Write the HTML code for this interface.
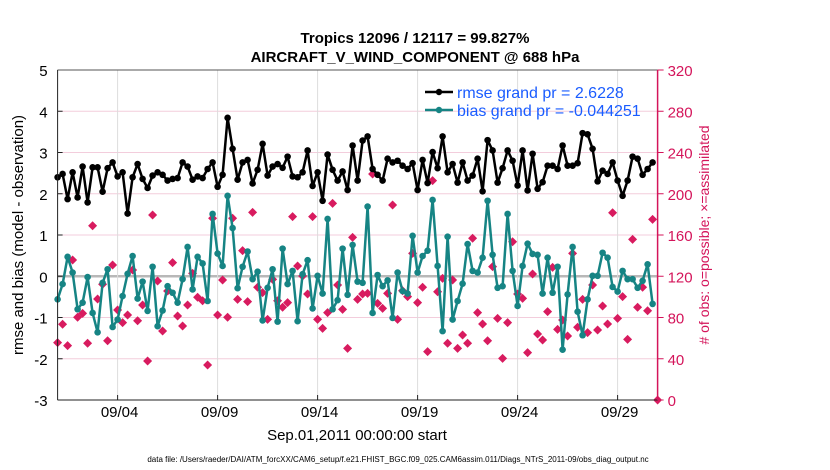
<!DOCTYPE html>
<html><head><meta charset="utf-8"><style>
body{margin:0;background:#fff}
svg{display:block;font-family:"Liberation Sans",sans-serif}
</style></head><body>
<svg id="chart" width="830" height="470" viewBox="0 0 830 470">
<g id="grid"></g>
<g id="series"></g>
<g id="axes"></g>
<text x="415" y="43" text-anchor="middle" font-size="15" font-weight="bold">Tropics 12096 / 12117 = 99.827%</text>
<text x="415" y="62" text-anchor="middle" font-size="15" font-weight="bold">AIRCRAFT_V_WIND_COMPONENT @ 688 hPa</text>
<text transform="translate(23,235) rotate(-90)" text-anchor="middle" font-size="15">rmse and bias (model - observation)</text>
<text transform="translate(709,235) rotate(-90)" text-anchor="middle" font-size="14" fill="#d4145a"># of obs: o=possible; ×=assimilated</text>
<text x="357" y="440" text-anchor="middle" font-size="15">Sep.01,2011 00:00:00 start</text>
<text x="398" y="462" text-anchor="middle" font-size="8">data file: /Users/raeder/DAI/ATM_forcXX/CAM6_setup/f.e21.FHIST_BGC.f09_025.CAM6assim.011/Diags_NTrS_2011-09/obs_diag_output.nc</text>
<g>
<line x1="425" y1="92" x2="453" y2="92" stroke="#000" stroke-width="2.5"/>
<circle cx="439" cy="92" r="3.2" fill="#000"/>
<text x="457" y="98" font-size="16" fill="#1a5cff">rmse grand pr = 2.6228</text>
<line x1="425" y1="110" x2="453" y2="110" stroke="#168484" stroke-width="2.5"/>
<circle cx="439" cy="110" r="3.2" fill="#168484"/>
<text x="457" y="116" font-size="16" fill="#1a5cff">bias grand pr = -0.044251</text>
</g>
</svg>
<script>
const rmse=[2.40,2.48,1.87,2.52,1.91,2.66,1.79,2.64,2.64,2.05,2.62,2.76,2.42,2.52,1.52,2.40,2.72,2.36,2.14,2.44,2.52,2.46,2.32,2.36,2.38,2.76,2.66,2.34,2.42,2.38,2.60,2.76,
2.17,2.46,3.84,3.09,2.34,2.76,2.82,2.25,2.58,3.21,2.44,2.66,2.72,2.63,2.90,2.42,2.40,2.52,3.05,2.19,2.52,1.83,2.95,2.58,2.32,2.54,2.09,3.17,2.32,3.29,
3.39,2.60,2.46,2.32,2.85,2.76,2.80,2.68,2.60,2.74,2.09,2.82,2.26,3.01,2.62,3.39,2.52,2.72,2.27,2.76,2.32,2.44,2.85,2.06,3.30,3.05,2.27,2.62,3.05,2.80,
2.20,3.05,2.08,2.97,2.12,2.28,2.68,2.68,2.60,3.17,2.68,2.68,2.74,3.47,3.44,3.09,2.30,2.56,2.48,2.76,2.32,1.95,2.32,2.90,2.85,2.46,2.60,2.76];
const bias=[-0.56,-0.19,0.47,0.09,-0.80,-0.64,-0.02,-0.89,-1.36,-0.16,0.17,-1.23,-1.05,-0.48,0.06,0.49,-0.54,-0.13,-0.84,0.23,-1.21,-0.83,-0.24,-0.40,-0.64,-0.07,0.71,-0.32,0.47,0.31,-0.60,1.51,
0.55,0.25,1.95,1.17,-0.29,0.23,0.60,-0.07,0.11,-1.07,-0.28,0.17,-1.10,0.67,-0.19,0.13,-1.09,0.05,0.39,-0.78,0.01,-0.42,1.39,-0.80,-0.58,0.67,-0.45,0.76,-0.13,-0.16,
1.69,-0.89,0.03,-0.24,-0.10,-1.01,0.09,-0.36,-0.42,0.98,0.09,0.49,0.62,1.85,0.25,-1.33,0.96,-1.05,-0.60,-0.18,0.78,0.13,0.09,0.45,1.83,0.52,-0.28,-0.24,1.51,0.13,
-0.72,0.25,0.79,0.54,0.52,-0.42,0.45,-0.40,0.23,-1.78,-0.44,0.71,-0.86,-1.43,-0.56,0.01,0.01,0.57,0.45,-0.26,-0.37,0.13,-0.07,-0.07,-0.28,-0.11,0.29,-0.67];
const nobs=[55.6,73.4,52.7,135.8,80.2,84.0,55.0,169,97.9,112.2,57.5,130.9,87.3,75.0,82.4,126.1,76.9,92.1,37.8,179.4,115.4,66.9,105.7,133.2,81.5,71.8,92.1,122.8,99.6,96.3,33.9,176.2,
82.4,116.4,80.2,176.2,97.6,144.8,95.4,182,109.3,104.1,78.2,117.0,96.3,89.9,94.4,177.8,129.9,120.2,102.8,177.8,78.2,69.5,84.7,190.7,111.5,87.9,50.1,157.7,97.6,102.8,
103.4,219.2,93.7,88.9,103.4,189.1,78.2,106.0,100.2,142.2,94.4,109.3,46.9,212.7,105.0,118.0,55.0,116.4,50.1,63.0,55.0,156.8,84.7,73.7,57.5,129.3,79.2,40.4,75.0,153.5,
102.8,98.6,45.9,122.2,64.0,58.2,85.7,128.6,68.5,77.6,62.1,142.2,70.5,97.6,65.3,111.5,67.9,91.2,73.7,181.6,79.2,100.2,58.8,155.8,89.9,109.3,86.6,175.2,0];
const leftTicks=[-3,-2,-1,0,1,2,3,4,5];
const rightTicks=[0,40,80,120,160,200,240,280,320];
const dayTicks=[3,8,13,18,23,28];
const dayLabels=["09/04","09/09","09/14","09/19","09/24","09/29"];
const stepDays=0.25;

const X0=57.6,X1=657.6,Y0=400,Y1=70;
const xs=d=>X0+(X1-X0)*d/30;
function yL(v){return Y0+(Y1-Y0)*(v+3)/8;}
function yR(v){return Y0+(Y1-Y0)*v/320;}
const NS="http://www.w3.org/2000/svg";
function mk(tag,attrs,parent){const e=document.createElementNS(NS,tag);for(const k in attrs)e.setAttribute(k,attrs[k]);parent.appendChild(e);return e;}
const grid=document.getElementById('grid'),ser=document.getElementById('series'),ax=document.getElementById('axes');

leftTicks.forEach(v=>{
  const y=yL(v);
  const l=mk('line',{x1:X0,x2:X1,y1:y,y2:y,stroke:v===0?'#b8b8b8':'#f3cddc','stroke-width':v===0?2.5:1},grid);
  
  
  const t=mk('text',{x:X0-10,y:y+6,'text-anchor':'end','font-size':15},ax);t.textContent=String(v);
  
  
  const tk=mk('line',{x1:X0,x2:X0+5,y1:y,y2:y,stroke:'#222'},ax);
  
  
});
dayTicks.forEach((d,i)=>{
  const x=xs(d);
  const l=mk('line',{x1:x,x2:x,y1:Y1,y2:Y0,stroke:'#dcdcdc','stroke-width':1},grid);
  
  
  const tk=mk('line',{x1:x,x2:x,y1:Y0,y2:Y0-5,stroke:'#222'},ax);
  
  
  const t=mk('text',{x:x+2,y:417,'text-anchor':'middle','font-size':15},ax);t.textContent=dayLabels[i];
  
  
});
rightTicks.forEach(v=>{
  const y=yR(v);
  const tk=mk('line',{x1:X1,x2:X1+6,y1:y,y2:y,stroke:'#d4145a'},ax);
  
  
  const t=mk('text',{x:X1+10,y:y+6,'font-size':15,fill:'#d4145a'},ax);t.textContent=String(v);
  
  
});
let e;
e=mk('line',{x1:X0,x2:X1,y1:Y1,y2:Y1,stroke:'#555'},ax);


e=mk('line',{x1:X0,x2:X1,y1:Y0,y2:Y0,stroke:'#222'},ax);


e=mk('line',{x1:X0,x2:X0,y1:Y1,y2:Y0,stroke:'#222'},ax);


e=mk('line',{x1:X1,x2:X1,y1:Y1,y2:Y0,stroke:'#d4145a','stroke-width':1.5},ax);



nobs.forEach((v,i)=>{
  const x=xs(i*stepDays),y=yR(v);
  const g=mk('path',{d:`M${x} ${y-4.5}L${x+4.5} ${y}L${x} ${y+4.5}L${x-4.5} ${y}Z`,fill:'#d81b5f'},ser);
  
  
});
function series(vals,color,name){
  const pts=vals.map((v,i)=>xs(i*stepDays)+','+yL(v)).join(' ');
  const pl=mk('polyline',{points:pts,fill:'none',stroke:color,'stroke-width':2.5,'stroke-linejoin':'round'},ser);
  
  
  vals.forEach((v,i)=>{
    const c=mk('circle',{cx:xs(i*stepDays),cy:yL(v),r:3.3,fill:color},ser);
    
    
  });
}
series(bias,'#168484','bias');
series(rmse,'#000','rmse');
</script>
</body></html>
